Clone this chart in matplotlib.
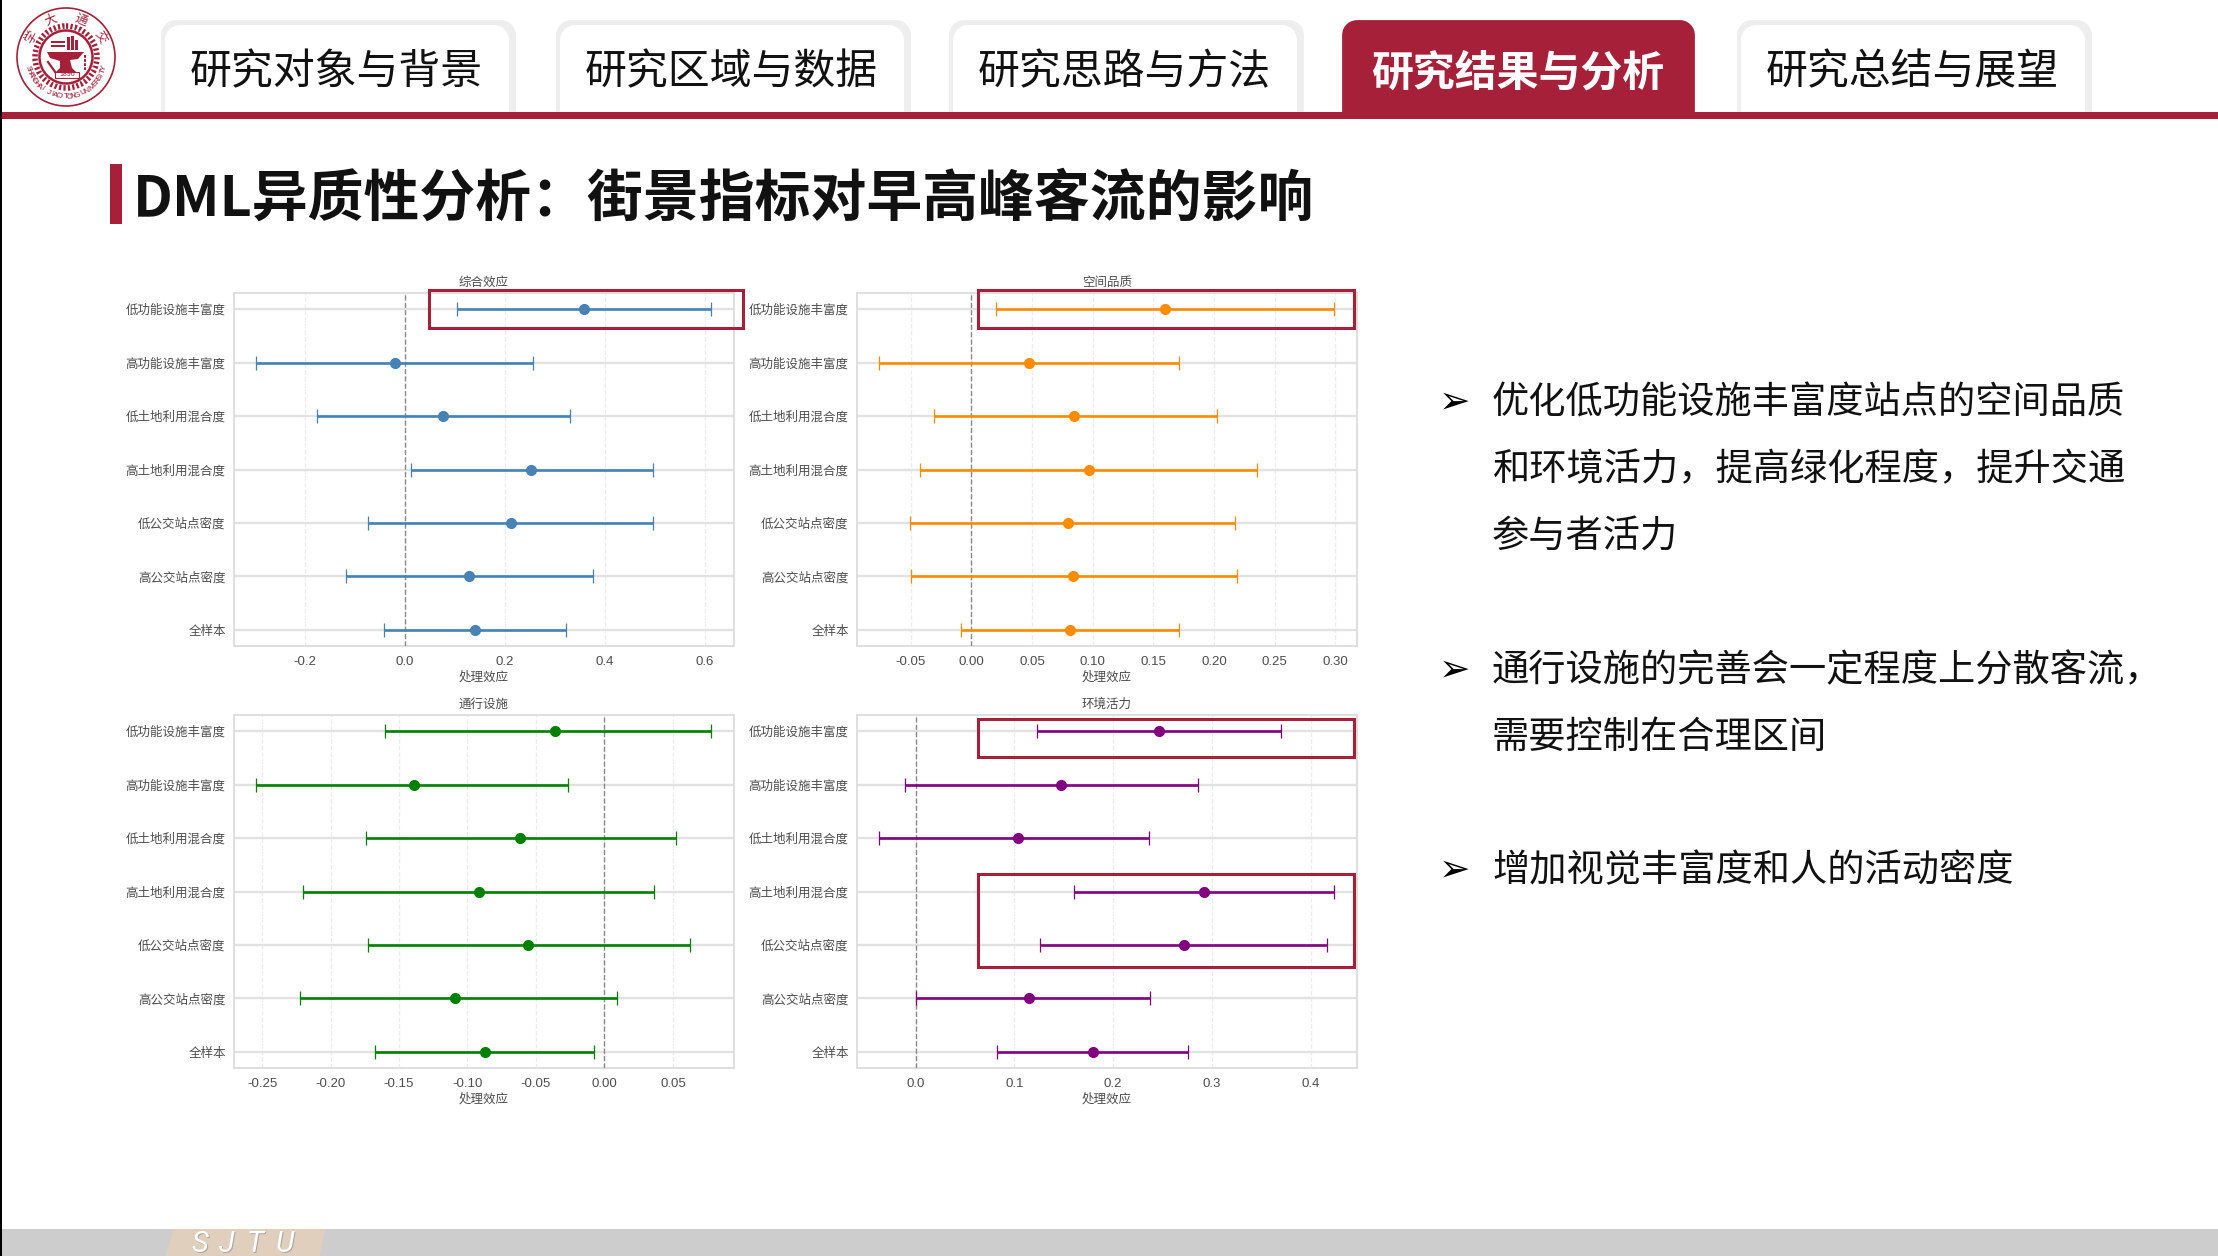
import math

import matplotlib
matplotlib.use("Agg")
import matplotlib.pyplot as plt
from matplotlib.patches import Circle, FancyBboxPatch, Polygon, Rectangle

CJK = ["Noto Sans CJK SC", "DejaVu Sans"]
LATIN = ["Liberation Sans", "Noto Sans CJK SC"]
plt.rcParams["font.family"] = CJK
plt.rcParams["axes.unicode_minus"] = False

W, H = 2218, 1256
RED = "#a62039"

categories = ["低功能设施丰富度", "高功能设施丰富度", "低土地利用混合度", "高土地利用混合度",
              "低公交站点密度", "高公交站点密度", "全样本"]

# top to bottom, same order as categories
zonghe_low = [0.105, -0.2965, -0.175, 0.013, -0.073, -0.1165, -0.041]
zonghe_mid = [0.358, -0.0196, 0.077, 0.252, 0.212, 0.1295, 0.141]
zonghe_high = [0.613, 0.2566, 0.330, 0.496, 0.496, 0.376, 0.323]

kongjian_low = [0.0207, -0.0758, -0.0311, -0.0422, -0.0502, -0.0496, -0.0089]
kongjian_mid = [0.160, 0.0479, 0.0845, 0.0969, 0.0795, 0.0838, 0.0815]
kongjian_high = [0.299, 0.1712, 0.2028, 0.2357, 0.217, 0.2193, 0.1712]

tongxing_low = [-0.1604, -0.2542, -0.1741, -0.2199, -0.1723, -0.2223, -0.1679]
tongxing_mid = [-0.0363, -0.1387, -0.0613, -0.0917, -0.0557, -0.1089, -0.0872]
tongxing_high = [0.078, -0.0268, 0.0521, 0.036, 0.0625, 0.0092, -0.0077]

huanjing_low = [0.1234, -0.0111, -0.0367, 0.1602, 0.1263, 0.0008, 0.0821]
huanjing_mid = [0.2469, 0.147, 0.104, 0.2918, 0.2716, 0.1148, 0.1792]
huanjing_high = [0.3699, 0.2857, 0.2365, 0.4235, 0.4165, 0.2369, 0.2757]

tab_labels = ["研究对象与背景", "研究区域与数据", "研究思路与方法", "研究结果与分析", "研究总结与展望"]
tab_left = [161, 556, 949, 1342, 1737]
active_tab = 3

bullets = [
    ["优化低功能设施丰富度站点的空间品质", "和环境活力，提高绿化程度，提升交通", "参与者活力"],
    ["通行设施的完善会一定程度上分散客流，", "需要控制在合理区间"],
    ["增加视觉丰富度和人的活动密度"],
]
bullet_y = [[403, 470, 537], [671, 737], [871]]

fig = plt.figure(figsize=(W / 100, H / 100), dpi=100, facecolor="white")

# page furniture, in pixel coordinates
bg = fig.add_axes([0, 0, 1, 1], zorder=0)
bg.set_xlim(0, W)
bg.set_ylim(H, 0)
bg.axis("off")

for i, label in enumerate(tab_labels):
    x0 = tab_left[i]
    # lw 20pt gives a 14px corner round the thin box
    if i == active_tab:
        bg.add_patch(FancyBboxPatch((x0 + 14, 34), 353 - 28, 100, boxstyle="round,pad=0,rounding_size=1",
                                    mutation_scale=1, fc=RED, ec=RED, lw=20, joinstyle="round", zorder=2))
        bg.text(x0 + 176, 73, label, color="white", fontsize=30.2, weight="bold", ha="center", va="center", zorder=5)
    else:
        bg.add_patch(FancyBboxPatch((x0 + 14, 34), 355 - 28, 100, boxstyle="round,pad=0,rounding_size=1",
                                    mutation_scale=1, fc="#eeeeee", ec="#eeeeee", lw=20, joinstyle="round", zorder=2))
        bg.add_patch(FancyBboxPatch((x0 + 18, 39), 344 - 28, 100, boxstyle="round,pad=0,rounding_size=1",
                                    mutation_scale=1, fc="white", ec="white", lw=20, joinstyle="round", zorder=3))
        bg.text(x0 + 175, 73, label, color="#111111", fontsize=30.2, ha="center", va="center", zorder=5)

bg.add_patch(Rectangle((0, 119), W, 40, fc="white", ec="none", zorder=6))
bg.add_patch(Rectangle((0, 112), W, 7, fc=RED, ec="none", zorder=7))
bg.add_patch(Rectangle((0, 0), 2, H, fc="black", ec="none", zorder=9))

# seal
sx, sy = 66, 57
bg.add_patch(Circle((sx, sy), 49, fc="white", ec=RED, lw=1.2, zorder=8))
bg.add_patch(Circle((sx, sy), 31, fc="white", ec=RED, lw=4, ls=(0, (0.4, 0.4)), zorder=8))
bg.add_patch(Circle((sx, sy), 26.5, fc="white", ec=RED, lw=1.8, zorder=8))
for ang, ch in zip([150, 112, 68, 30], "学大通交"):
    a = math.radians(ang)
    bg.text(sx + 40 * math.cos(a), sy - 40 * math.sin(a), ch, color=RED, fontsize=9, ha="center", va="center",
            rotation=ang - 90, zorder=9)
arc_text = "SHANGHAI JIAO TONG UNIVERSITY"
for k, ch in enumerate(arc_text):
    a = math.radians(196 + k * 148 / (len(arc_text) - 1))
    bg.text(sx + 40 * math.cos(a), sy - 40 * math.sin(a), ch, color=RED, fontsize=6, family=LATIN,
            ha="center", va="center", rotation=math.degrees(a) - 270, zorder=9)
for bx, by, bw, bh in [(51, 45, 14, 2), (51, 41, 14, 2), (67, 37, 3, 13), (71, 36, 3, 14), (75, 40, 3, 10)]:
    bg.add_patch(Rectangle((bx, by), bw, bh, fc=RED, ec="none", zorder=9))
bg.add_patch(Polygon([(47, 52), (84, 52), (78, 59), (70, 60), (72, 68), (76, 72), (56, 72), (60, 68), (60, 61), (50, 58)],
                     fc=RED, ec="none", zorder=9))
bg.plot([85, 85], [55, 70], color=RED, lw=1.4, ls=(0, (1.5, 0.6)), zorder=9)
bg.plot([48, 58], [62, 76], color=RED, lw=1.6, zorder=9)
bg.add_patch(Rectangle((55, 72), 24, 6, fc="white", ec=RED, lw=0.8, zorder=10))
bg.text(67, 75, "1896", color=RED, fontsize=5, family=LATIN, ha="center", va="center", zorder=11)

# slide title
bg.add_patch(Rectangle((110, 164), 12, 60, fc=RED, ec="none", zorder=2))
bg.text(133, 199, "DML异质性分析：街景指标对早高峰客流的影响", color="#111111", fontsize=40.2, weight="bold",
        ha="left", va="center", zorder=8)

# right hand notes
for lines, ys in zip(bullets, bullet_y):
    bg.text(1455, ys[0], "➢", color="black", fontsize=27, family=["DejaVu Sans"], ha="center", va="center")
    for line, y in zip(lines, ys):
        bg.text(1492, y, line, color="#111111", fontsize=26.8, ha="left", va="center")

# footer
bg.add_patch(Rectangle((0, 1229), W, 27, fc="#cdcdcd", ec="none", zorder=1))
bg.add_patch(Polygon([(173, 1229), (325, 1229), (320, 1256), (166, 1256)], fc="#e0cfbd", ec="none", zorder=2))
for lx, ch in zip([200, 227, 255, 285], "SJTU"):
    bg.text(lx + 1, 1253, ch, color="#8a8a8a", fontsize=21, family=["Roboto"], style="italic",
            ha="center", va="baseline", alpha=0.6, zorder=3)
    bg.text(lx, 1252, ch, color="white", fontsize=21, family=["Roboto"], style="italic",
            ha="center", va="baseline", zorder=4)


def forest(box, title, low, mid, high, color, xlim, ticks, fmt):
    left, top, right, bottom = box
    ax = fig.add_axes([left / W, 1 - bottom / H, (right - left) / W, (bottom - top) / H], zorder=2)
    ys = list(range(len(categories) - 1, -1, -1))
    err = [[m - l for m, l in zip(mid, low)], [h - m for h, m in zip(high, mid)]]
    ax.errorbar(mid, ys, xerr=err, fmt="o", color=color, ecolor=color, markersize=7, elinewidth=1.9,
                capsize=4.7, capthick=0.9, zorder=4)
    ax.axvline(0, color="#8a8a8a", ls="--", lw=1.0, zorder=3)
    ax.set_xlim(*xlim)
    ax.set_ylim(-0.3, 6.3)
    ax.set_yticks(ys)
    ax.set_yticklabels(categories, fontsize=9, color="#4d4d4d")
    ax.set_xticks(ticks)
    ax.set_xticklabels([fmt % t for t in ticks], fontsize=9.5, color="#4d4d4d", family=LATIN)
    ax.tick_params(axis="x", length=0, pad=7)
    ax.tick_params(axis="y", length=0, pad=6)
    ax.grid(axis="y", color="#e2e2e2", lw=1.7, zorder=1)
    ax.grid(axis="x", color="#ececec", lw=0.9, ls="--", zorder=1)
    ax.set_axisbelow(True)
    for s in ax.spines.values():
        s.set_color("#dcdcdc")
        s.set_linewidth(1.3)
    ax.set_title(title, fontsize=9, color="#4d4d4d", pad=5)
    ax.set_xlabel("处理效应", fontsize=9, color="#4d4d4d", labelpad=2)
    return ax


forest((234, 293, 734, 646), "综合效应", zonghe_low, zonghe_mid, zonghe_high, "steelblue",
       (-0.341, 0.658), [-0.2, 0.0, 0.2, 0.4, 0.6], "%.1f")
forest((857, 293, 1357, 646), "空间品质", kongjian_low, kongjian_mid, kongjian_high, "darkorange",
       (-0.0943, 0.318), [-0.05, 0.0, 0.05, 0.10, 0.15, 0.20, 0.25, 0.30], "%.2f")
forest((234, 715, 734, 1068), "通行设施", tongxing_low, tongxing_mid, tongxing_high, "green",
       (-0.2705, 0.0946), [-0.25, -0.20, -0.15, -0.10, -0.05, 0.0, 0.05], "%.2f")
forest((857, 715, 1357, 1068), "环境活力", huanjing_low, huanjing_mid, huanjing_high, "purple",
       (-0.0594, 0.447), [0.0, 0.1, 0.2, 0.3, 0.4], "%.1f")

# highlight boxes over the panels
over = fig.add_axes([0, 0, 1, 1], zorder=5)
over.set_xlim(0, W)
over.set_ylim(H, 0)
over.axis("off")
over.patch.set_alpha(0)
for x0, y0, x1, y1 in [(429, 290, 743, 328), (978, 290, 1354, 328), (978, 719, 1354, 757), (978, 874, 1354, 967)]:
    over.add_patch(Rectangle((x0, y0), x1 - x0, y1 - y0, fc="none", ec=RED, lw=2.2))

fig.savefig("out.png", dpi=100)
